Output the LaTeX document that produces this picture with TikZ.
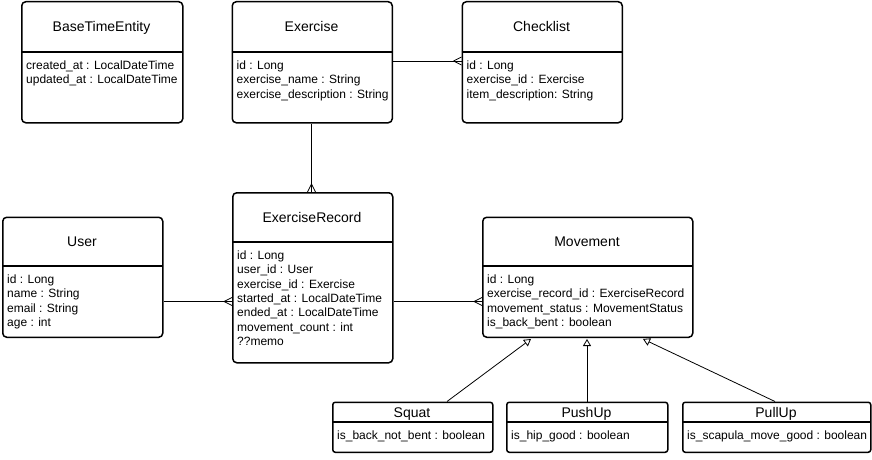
\documentclass[tikz,border=0pt]{standalone}
\usepackage{fontspec}
\setmainfont{Liberation Sans}
\usetikzlibrary{arrows.meta}
\newcommand{\attrfont}{\fontsize{12}{14.4}\selectfont}
\newcommand{\titlefont}{\fontsize{14}{16}\selectfont}
\tikzset{
  entbox/.style={draw, line width=1.5pt, rounded corners=4pt, inner sep=0pt, anchor=north west},
  subbox/.style={draw, line width=1.5pt, rounded corners=2.5pt, inner sep=0pt, anchor=north west},
  divline/.style={line width=1.5pt},
  ttl/.style={font=\titlefont, inner sep=0pt, anchor=base},
  attrs/.style={font=\attrfont, inner sep=0pt, anchor=north west},
  conn/.style={line width=0.8pt},
  gen/.style={line width=0.8pt, -{Triangle[open, length=7pt, width=8pt, line width=0.8pt]}},
}
\begin{document}
\begin{tikzpicture}[x=1pt, y=-1pt]
\useasboundingbox (0,0) rectangle (872,460);
% BaseTimeEntity
\node[entbox, minimum width=161pt, minimum height=121pt] (bte) at (21,1) {};
\draw[divline] (21,52) -- (182,52);
\node[ttl] (bteT) at (101.5,31.5) {BaseTimeEntity};
\node[attrs] (bteA) at (26,59) {\begin{tabular}{@{}l@{}}created\_at : LocalDateTime\\updated\_at : LocalDateTime\end{tabular}};
% Exercise
\node[entbox, minimum width=160pt, minimum height=121pt] (ex) at (231.5,1) {};
\draw[divline] (231.5,52) -- (391.5,52);
\node[ttl] (exT) at (311.5,31.5) {Exercise};
\node[attrs] (exA) at (236.5,59) {\begin{tabular}{@{}l@{}}id : Long\\exercise\_name : String\\exercise\_description : String\end{tabular}};
% Checklist
\node[entbox, minimum width=160pt, minimum height=121pt] (chk) at (461.5,1) {};
\draw[divline] (461.5,52) -- (621.5,52);
\node[ttl] (chkT) at (541.5,31.5) {Checklist};
\node[attrs] (chkA) at (466.5,59) {\begin{tabular}{@{}l@{}}id : Long\\exercise\_id : Exercise\\item\_description: String\end{tabular}};
% ExerciseRecord
\node[entbox, minimum width=160pt, minimum height=170pt] (er) at (232,192) {};
\draw[divline] (232,242) -- (392,242);
\node[ttl] (erT) at (312,222) {ExerciseRecord};
\node[attrs] (erA) at (237,249) {\begin{tabular}{@{}l@{}}id : Long\\user\_id : User\\exercise\_id : Exercise\\started\_at : LocalDateTime\\ended\_at : LocalDateTime\\movement\_count : int\\??memo\end{tabular}};
% User
\node[entbox, minimum width=160pt, minimum height=120pt] (usr) at (2,216.5) {};
\draw[divline] (2,266) -- (162,266);
\node[ttl] (usrT) at (82,246) {User};
\node[attrs] (usrA) at (7,273) {\begin{tabular}{@{}l@{}}id : Long\\name : String\\email : String\\age : int\end{tabular}};
% Movement
\node[entbox, minimum width=210pt, minimum height=120pt] (mov) at (482,216.5) {};
\draw[divline] (482,266) -- (692,266);
\node[ttl] (movT) at (587,246) {Movement};
\node[attrs] (movA) at (487,273) {\begin{tabular}{@{}l@{}}id : Long\\exercise\_record\_id : ExerciseRecord\\movement\_status : MovementStatus\\is\_back\_bent : boolean\end{tabular}};
% Squat
\node[subbox, minimum width=160pt, minimum height=50pt] (sq) at (332,401.5) {};
\draw[divline] (332,422) -- (492,422);
\node[ttl] (sqT) at (412,417) {Squat};
\node[attrs] (sqA) at (337,429) {\begin{tabular}{@{}l@{}}is\_back\_not\_bent : boolean\end{tabular}};
% PushUp
\node[subbox, minimum width=161pt, minimum height=50pt] (pu) at (506,401.5) {};
\draw[divline] (506,422) -- (667,422);
\node[ttl] (puT) at (586.5,417) {PushUp};
\node[attrs] (puA) at (511,429) {\begin{tabular}{@{}l@{}}is\_hip\_good : boolean\end{tabular}};
% PullUp
\node[subbox, minimum width=188pt, minimum height=50pt] (pl) at (682,401.5) {};
\draw[divline] (682,422) -- (870,422);
\node[ttl] (plT) at (776,417) {PullUp};
\node[attrs] (plA) at (687,429) {\begin{tabular}{@{}l@{}}is\_scapula\_move\_good : boolean\end{tabular}};
% connectors
\coordinate (exChk) at (ex.east |- 0,61);
\coordinate (chkIn) at (chk.west |- 0,61);
\draw[conn] (exChk) -- (chkIn);
\draw[conn] (chkIn) ++(-8,0) -- ++(8,-4) (chkIn) ++(-8,0) -- ++(8,4);
\coordinate (exDn) at (ex.south -| 311.5,0);
\coordinate (erUp) at (er.north -| 311.5,0);
\draw[conn] (exDn) -- (erUp);
\draw[conn] (erUp) ++(0,-8) -- ++(-4,8) (erUp) ++(0,-8) -- ++(4,8);
\coordinate (usrR) at (usr.east |- 0,301.5);
\coordinate (erL) at (er.west |- 0,301.5);
\draw[conn] (usrR) -- (erL);
\draw[conn] (erL) ++(-8,0) -- ++(8,-4) (erL) ++(-8,0) -- ++(8,4);
\coordinate (erR) at (er.east |- 0,301.5);
\coordinate (movL) at (mov.west |- 0,301.5);
\draw[conn] (erR) -- (movL);
\draw[conn] (movL) ++(-8,0) -- ++(8,-4) (movL) ++(-8,0) -- ++(8,4);
% generalization
\coordinate (sqTop) at (sq.north -| 447,0);
\coordinate (puTop) at (pu.north -| 587,0);
\coordinate (plTop) at (pl.north -| 775,0);
\coordinate (movB1) at (mov.south -| 531,0);
\coordinate (movB2) at (mov.south -| 587,0);
\coordinate (movB3) at (mov.south -| 643,0);
\draw[gen] (sqTop) -- ([yshift=-1pt]movB1);
\draw[gen] (puTop) -- ([yshift=-1pt]movB2);
\draw[gen] (plTop) -- ([yshift=-1pt]movB3);
\end{tikzpicture}
\end{document}
